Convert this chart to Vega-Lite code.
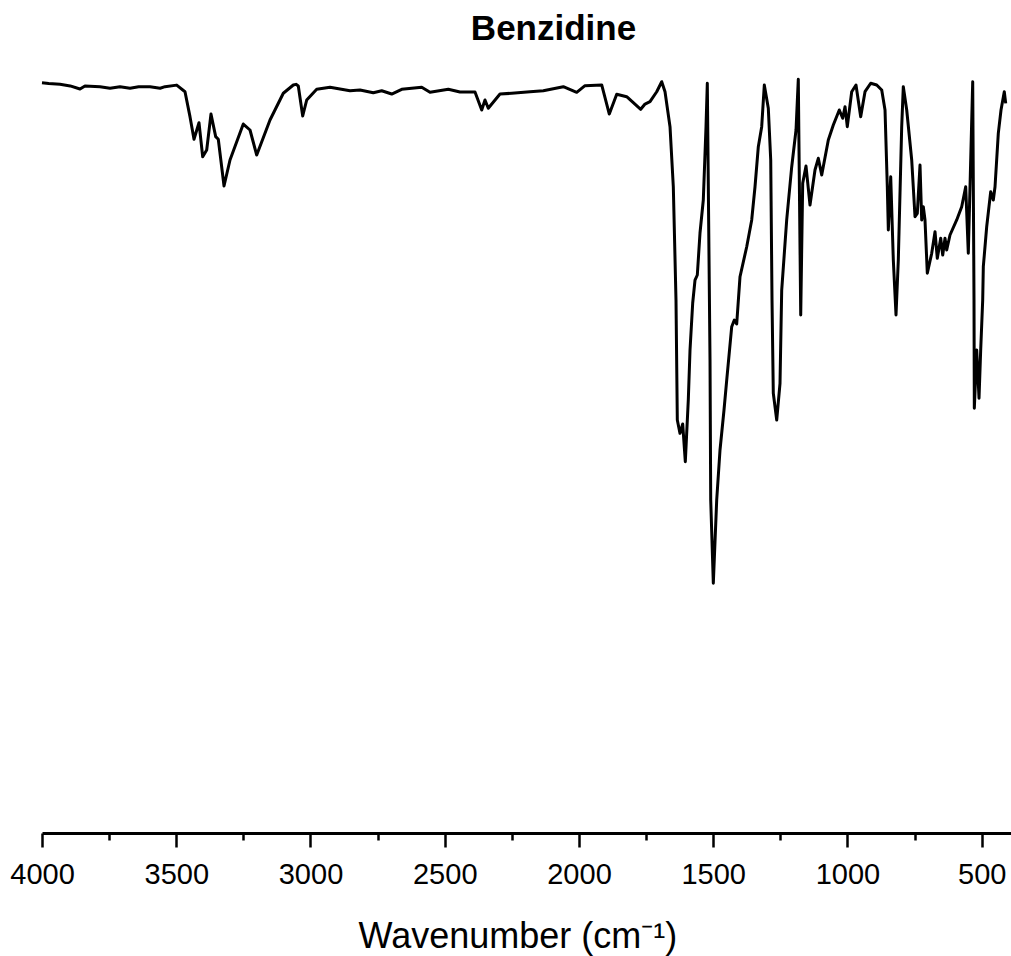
{
  "$schema": "https://vega.github.io/schema/vega-lite/v6.json",
  "width": 969,
  "height": 775,
  "autosize": {"type": "none"},
  "padding": {"left": 42, "top": 58, "right": 0, "bottom": 123},
  "background": "white",
  "config": {"view": {"stroke": null}},
  "title": {"text": "Benzidine", "font": "Liberation Sans", "fontSize": 35, "fontWeight": "bold", "color": "black", "anchor": "middle", "dx": 27, "offset": 10.7},
  "data": {"values": [
    {"wavenumber": 4000, "T": 96.8},
    {"wavenumber": 3975, "T": 96.7},
    {"wavenumber": 3933, "T": 96.6},
    {"wavenumber": 3895, "T": 96.4},
    {"wavenumber": 3858.5, "T": 96.0},
    {"wavenumber": 3840, "T": 96.4},
    {"wavenumber": 3784, "T": 96.3},
    {"wavenumber": 3746.7, "T": 96.1},
    {"wavenumber": 3709.5, "T": 96.3},
    {"wavenumber": 3672.2, "T": 96.1},
    {"wavenumber": 3640, "T": 96.3},
    {"wavenumber": 3597.8, "T": 96.3},
    {"wavenumber": 3560, "T": 96.1},
    {"wavenumber": 3541.9, "T": 96.3},
    {"wavenumber": 3498.3, "T": 96.5},
    {"wavenumber": 3467.4, "T": 95.65},
    {"wavenumber": 3448.8, "T": 92.43},
    {"wavenumber": 3433.9, "T": 89.51},
    {"wavenumber": 3415.3, "T": 91.65},
    {"wavenumber": 3401.5, "T": 87.26},
    {"wavenumber": 3386.6, "T": 88.13},
    {"wavenumber": 3370.6, "T": 92.77},
    {"wavenumber": 3353.1, "T": 89.85},
    {"wavenumber": 3343.4, "T": 89.51},
    {"wavenumber": 3322.1, "T": 83.48},
    {"wavenumber": 3299.8, "T": 86.84},
    {"wavenumber": 3250.3, "T": 91.48},
    {"wavenumber": 3225.3, "T": 90.71},
    {"wavenumber": 3200.3, "T": 87.48},
    {"wavenumber": 3150.8, "T": 92.0},
    {"wavenumber": 3101.3, "T": 95.45},
    {"wavenumber": 3064, "T": 96.52},
    {"wavenumber": 3054, "T": 96.6},
    {"wavenumber": 3045.4, "T": 96.39},
    {"wavenumber": 3029, "T": 92.52},
    {"wavenumber": 3014.1, "T": 94.58},
    {"wavenumber": 2976.9, "T": 95.96},
    {"wavenumber": 2927.3, "T": 96.22},
    {"wavenumber": 2852.9, "T": 95.78},
    {"wavenumber": 2815.6, "T": 95.87},
    {"wavenumber": 2766.1, "T": 95.52},
    {"wavenumber": 2734.8, "T": 95.78},
    {"wavenumber": 2697.5, "T": 95.35},
    {"wavenumber": 2660.3, "T": 95.96},
    {"wavenumber": 2585.8, "T": 96.22},
    {"wavenumber": 2554.9, "T": 95.57},
    {"wavenumber": 2486.7, "T": 95.96},
    {"wavenumber": 2443.2, "T": 95.61},
    {"wavenumber": 2387.3, "T": 95.61},
    {"wavenumber": 2362.3, "T": 93.29},
    {"wavenumber": 2350.1, "T": 94.58},
    {"wavenumber": 2337.8, "T": 93.51},
    {"wavenumber": 2294.2, "T": 95.35},
    {"wavenumber": 2250.6, "T": 95.45},
    {"wavenumber": 2182.4, "T": 95.65},
    {"wavenumber": 2132.9, "T": 95.78},
    {"wavenumber": 2058.4, "T": 96.3},
    {"wavenumber": 2008.5, "T": 95.57},
    {"wavenumber": 1977.6, "T": 96.43},
    {"wavenumber": 1915.4, "T": 96.52},
    {"wavenumber": 1887.1, "T": 92.77},
    {"wavenumber": 1859.5, "T": 95.32},
    {"wavenumber": 1822.3, "T": 95.01},
    {"wavenumber": 1770.1, "T": 93.38},
    {"wavenumber": 1754.1, "T": 94.06},
    {"wavenumber": 1735.5, "T": 94.36},
    {"wavenumber": 1710.5, "T": 95.65},
    {"wavenumber": 1691.9, "T": 96.94},
    {"wavenumber": 1679.6, "T": 95.65},
    {"wavenumber": 1661, "T": 91.14},
    {"wavenumber": 1648.7, "T": 83.39},
    {"wavenumber": 1638.7, "T": 68.77},
    {"wavenumber": 1633.8, "T": 53.29},
    {"wavenumber": 1623.8, "T": 51.57},
    {"wavenumber": 1613.7, "T": 52.77},
    {"wavenumber": 1604, "T": 47.91},
    {"wavenumber": 1592.9, "T": 55.87},
    {"wavenumber": 1586.5, "T": 62.32},
    {"wavenumber": 1576.5, "T": 68.39},
    {"wavenumber": 1567.9, "T": 71.35},
    {"wavenumber": 1559.3, "T": 72.0},
    {"wavenumber": 1549.3, "T": 77.42},
    {"wavenumber": 1537, "T": 81.68},
    {"wavenumber": 1526.9, "T": 91.14},
    {"wavenumber": 1522.1, "T": 96.74},
    {"wavenumber": 1512, "T": 61.03},
    {"wavenumber": 1509.4, "T": 42.97},
    {"wavenumber": 1499.7, "T": 32.22},
    {"wavenumber": 1487.1, "T": 42.97},
    {"wavenumber": 1474.8, "T": 49.42},
    {"wavenumber": 1459.9, "T": 54.58},
    {"wavenumber": 1449.8, "T": 58.45},
    {"wavenumber": 1431.2, "T": 65.33},
    {"wavenumber": 1421.5, "T": 66.19},
    {"wavenumber": 1412.6, "T": 65.68},
    {"wavenumber": 1400.3, "T": 71.78},
    {"wavenumber": 1375.3, "T": 75.65},
    {"wavenumber": 1356.7, "T": 79.1},
    {"wavenumber": 1344.4, "T": 83.39},
    {"wavenumber": 1332.1, "T": 88.55},
    {"wavenumber": 1319.5, "T": 91.14},
    {"wavenumber": 1309.8, "T": 96.52},
    {"wavenumber": 1294.9, "T": 93.51},
    {"wavenumber": 1285.9, "T": 86.84},
    {"wavenumber": 1281.1, "T": 68.77},
    {"wavenumber": 1276.3, "T": 56.74},
    {"wavenumber": 1263.6, "T": 53.29},
    {"wavenumber": 1251.3, "T": 58.03},
    {"wavenumber": 1245, "T": 70.06},
    {"wavenumber": 1226.4, "T": 79.1},
    {"wavenumber": 1207.7, "T": 85.97},
    {"wavenumber": 1191.7, "T": 90.71},
    {"wavenumber": 1183.2, "T": 97.25},
    {"wavenumber": 1174.2, "T": 66.84},
    {"wavenumber": 1166.8, "T": 83.83},
    {"wavenumber": 1154.5, "T": 86.06},
    {"wavenumber": 1139.6, "T": 81.03},
    {"wavenumber": 1121, "T": 85.55},
    {"wavenumber": 1108.7, "T": 87.06},
    {"wavenumber": 1096, "T": 84.9},
    {"wavenumber": 1071.4, "T": 89.42},
    {"wavenumber": 1052.8, "T": 91.35},
    {"wavenumber": 1030.5, "T": 93.29},
    {"wavenumber": 1017.8, "T": 92.22},
    {"wavenumber": 1009.2, "T": 93.72},
    {"wavenumber": 1000.7, "T": 91.14},
    {"wavenumber": 984.3, "T": 95.65},
    {"wavenumber": 968.3, "T": 96.52},
    {"wavenumber": 950.8, "T": 92.43},
    {"wavenumber": 934.7, "T": 95.65},
    {"wavenumber": 913.5, "T": 96.74},
    {"wavenumber": 891.2, "T": 96.52},
    {"wavenumber": 872.5, "T": 95.87},
    {"wavenumber": 860.2, "T": 93.29},
    {"wavenumber": 851.7, "T": 83.39},
    {"wavenumber": 847.9, "T": 77.81},
    {"wavenumber": 839, "T": 84.68},
    {"wavenumber": 829.3, "T": 73.94},
    {"wavenumber": 819.3, "T": 66.84},
    {"wavenumber": 810.7, "T": 73.94},
    {"wavenumber": 798.1, "T": 91.14},
    {"wavenumber": 792.1, "T": 96.3},
    {"wavenumber": 779.4, "T": 93.29},
    {"wavenumber": 760.8, "T": 86.84},
    {"wavenumber": 748.5, "T": 79.52},
    {"wavenumber": 740, "T": 79.96},
    {"wavenumber": 729.9, "T": 86.19},
    {"wavenumber": 723.6, "T": 79.1},
    {"wavenumber": 717.6, "T": 80.81},
    {"wavenumber": 711.3, "T": 79.1},
    {"wavenumber": 702.7, "T": 72.22},
    {"wavenumber": 686.3, "T": 74.8},
    {"wavenumber": 674, "T": 77.59},
    {"wavenumber": 665.5, "T": 74.15},
    {"wavenumber": 652.8, "T": 76.74},
    {"wavenumber": 645.3, "T": 74.58},
    {"wavenumber": 636.8, "T": 76.74},
    {"wavenumber": 630.5, "T": 75.23},
    {"wavenumber": 618.2, "T": 77.16},
    {"wavenumber": 593.2, "T": 79.1},
    {"wavenumber": 574.6, "T": 80.81},
    {"wavenumber": 559.7, "T": 83.39},
    {"wavenumber": 550, "T": 74.8},
    {"wavenumber": 541.1, "T": 86.84},
    {"wavenumber": 533.6, "T": 96.94},
    {"wavenumber": 528.8, "T": 68.77},
    {"wavenumber": 527.6, "T": 54.8},
    {"wavenumber": 518.7, "T": 62.32},
    {"wavenumber": 510.1, "T": 56.09},
    {"wavenumber": 503.9, "T": 62.32},
    {"wavenumber": 496.4, "T": 68.77},
    {"wavenumber": 494.1, "T": 73.07},
    {"wavenumber": 481.5, "T": 78.23},
    {"wavenumber": 466.6, "T": 82.75},
    {"wavenumber": 456.9, "T": 81.68},
    {"wavenumber": 450.5, "T": 83.39},
    {"wavenumber": 438.3, "T": 90.28},
    {"wavenumber": 428.2, "T": 93.29},
    {"wavenumber": 416, "T": 95.65},
    {"wavenumber": 410.7, "T": 94.15}
  ]},
  "resolve": {"axis": {"x": "independent"}},
  "layer": [
    {
      "mark": {"type": "line", "color": "black", "strokeWidth": 3, "strokeJoin": "round"},
      "encoding": {
        "x": {
          "field": "wavenumber", "type": "quantitative",
          "scale": {"domain": [4000, 391], "nice": false, "zero": false},
          "axis": {
            "orient": "bottom",
            "values": [4000, 3500, 3000, 2500, 2000, 1500, 1000, 500],
            "format": "d",
            "grid": false,
            "labelFont": "Liberation Sans", "labelFontSize": 29, "labelColor": "black",
            "labelPadding": 13, "labelFlush": false, "labelOverlap": false,
            "tickColor": "black", "tickSize": 14, "tickWidth": 2.5,
            "domainColor": "black", "domainWidth": 3,
            "title": "Wavenumber (cm⁻¹)",
            "titleFont": "Liberation Sans", "titleFontSize": 36, "titleFontWeight": "normal", "titleColor": "black",
            "titleX": 316, "titleY": 114, "titleAlign": "left", "titleBaseline": "alphabetic", "titleAnchor": "start"
          }
        },
        "y": {
          "field": "T", "type": "quantitative",
          "scale": {"domain": [0, 100], "nice": false, "zero": false},
          "axis": null
        }
      }
    },
    {
      "mark": {"type": "line", "strokeOpacity": 0},
      "encoding": {
        "x": {
          "field": "wavenumber", "type": "quantitative",
          "axis": {
            "orient": "bottom",
            "values": [3750, 3250, 2750, 2250, 1750, 1250, 750],
            "labels": false, "domain": false, "grid": false,
            "tickColor": "black", "tickSize": 7, "tickWidth": 2.5,
            "title": null
          }
        },
        "y": {"field": "T", "type": "quantitative", "axis": null}
      }
    }
  ]
}
